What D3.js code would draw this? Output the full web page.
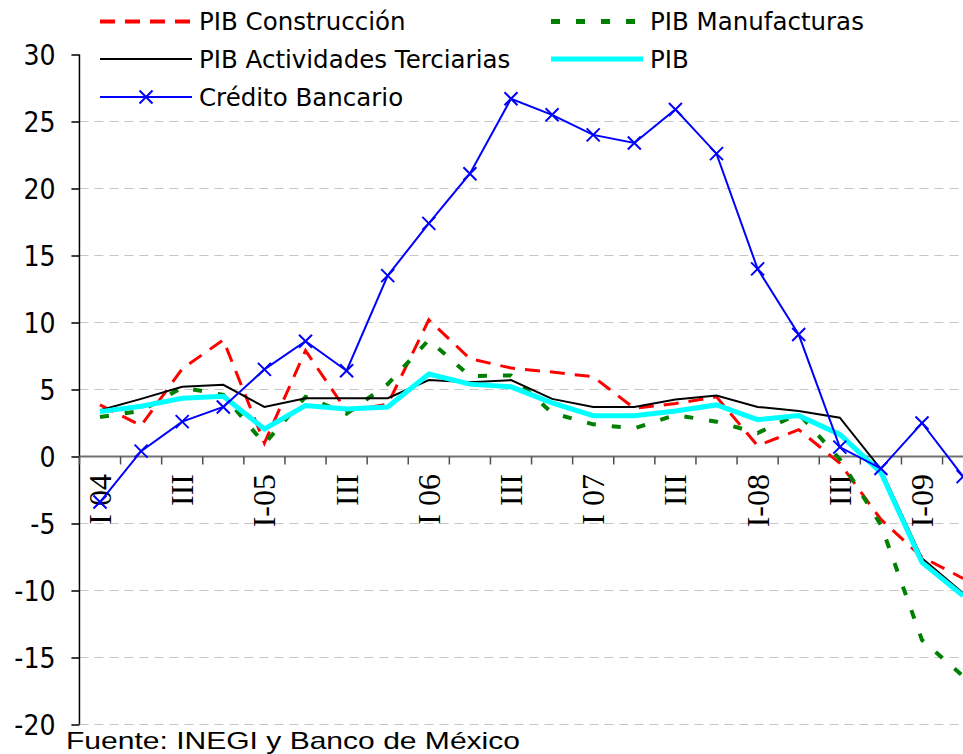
<!DOCTYPE html>
<html>
<head>
<meta charset="utf-8">
<script src="https://cdn.jsdelivr.net/npm/d3@7"></script>
<style>
  html, body { margin: 0; padding: 0; background: #fff; overflow: hidden; }
  svg { display: block; }
</style>
</head>
<body>
<svg id="chart" width="963" height="754"></svg>
<script>
// Quarters 2004Q1 .. 2009Q2
const quarters = ["2004Q1","2004Q2","2004Q3","2004Q4","2005Q1","2005Q2","2005Q3","2005Q4",
  "2006Q1","2006Q2","2006Q3","2006Q4","2007Q1","2007Q2","2007Q3","2007Q4",
  "2008Q1","2008Q2","2008Q3","2008Q4","2009Q1","2009Q2"];
const tickLabels = ["I 04","","III","","I-05","","III","","I 06","","III","",
  "I 07","","III","","I-08","","III","","I-09",""];

const pibConstruccion = [3.85, 2.3, 6.55, 8.7, 1.0, 7.9, 3.4, 3.9, 10.2, 7.3, 6.6, 6.3,
  5.95, 3.6, 3.95, 4.45, 0.8, 2.0, -0.5, -4.7, -7.5, -9.1];
const pibManufacturas = [2.95, 3.4, 5.15, 4.6, 0.95, 4.45, 3.2, 5.4, 8.7, 6.0, 6.05, 3.25,
  2.4, 2.1, 3.1, 2.6, 1.75, 3.2, -0.2, -5.1, -13.7, -16.4];
const pibTerciarias = [3.45, 4.3, 5.2, 5.35, 3.7, 4.35, 4.35, 4.35, 5.7, 5.55, 5.7, 4.3,
  3.7, 3.7, 4.25, 4.55, 3.7, 3.4, 2.9, -0.95, -7.6, -10.2];
const pibTotal = [3.35, 3.75, 4.35, 4.5, 2.05, 3.8, 3.55, 3.7, 6.15, 5.4, 5.2, 4.0,
  3.05, 3.05, 3.4, 3.85, 2.75, 3.05, 1.65, -1.2, -7.9, -10.4];
const creditoBancario = [-3.4, 0.4, 2.6, 3.7, 6.5, 8.6, 6.4, 13.5, 17.4, 21.1, 26.7, 25.5,
  24.0, 23.4, 25.9, 22.6, 14.0, 9.1, 0.7, -0.9, 2.5, -1.5];

const yTicks = [-20, -15, -10, -5, 0, 5, 10, 15, 20, 25, 30];
const gridTicks = [-20, -15, -10, -5, 5, 10, 15, 20, 25];

const seriesNames = ["PIB Construcción", "PIB Manufacturas", "PIB Actividades Terciarias", "PIB", "Crédito Bancario"];
const seriesValues = [pibConstruccion, pibManufacturas, pibTerciarias, pibTotal, creditoBancario];
const seriesColors = ["#ff0000", "#008000", "#000000", "#00ffff", "#0000ff"];
const seriesWidths = [3, 4, 2, 5, 2];
const seriesDash = ["15,10", "9,16", null, null, null];
const legendWidths = [4, 5, 2, 5, 2];

const svg = d3.select("#chart");

const bandW = 41.1;
const x0 = 79.45;
const x = d3.scaleBand().domain(quarters).range([x0, x0 + bandW * quarters.length]).padding(0);
const xc = q => x(q) + x.bandwidth() / 2;
const y = d3.scaleLinear().domain([-20, 30]).range([724.5, 54.5]);

// gridlines
svg.append("g").selectAll("line").data(gridTicks).join("line")
  .attr("x1", x0).attr("x2", 963)
  .attr("y1", d => y(d)).attr("y2", d => y(d))
  .attr("stroke", "#c6c6c6").attr("stroke-width", 1.2)
  .attr("stroke-dasharray", "9,6");

// y axis
const yAxis = svg.append("g").attr("transform", `translate(${x0},0)`)
  .call(d3.axisLeft(y).tickValues(yTicks).tickSize(8).tickPadding(16).tickFormat(d => String(d)));
yAxis.select(".domain").attr("stroke", "#000").attr("stroke-width", 1.5).attr("d", `M0,${y(30)}V${y(-20)}`);
yAxis.selectAll(".tick line").attr("stroke", "#000").attr("stroke-width", 1.5);
yAxis.selectAll(".tick text").attr("font-family", "DejaVu Sans Condensed, DejaVu Sans, sans-serif")
  .attr("font-stretch", "condensed")
  .attr("font-size", 28).attr("fill", "#000").attr("dy", "0.36em");

// x axis line at zero
const xAxisG = svg.append("g");
xAxisG.append("line").attr("x1", x0).attr("x2", x0 + bandW * quarters.length)
  .attr("y1", y(0)).attr("y2", y(0)).attr("stroke", "#707070").attr("stroke-width", 2);
const edges = quarters.map(q => x(q));
xAxisG.selectAll("line.tk").data(edges).join("line").attr("class", "tk")
  .attr("x1", d => d).attr("x2", d => d)
  .attr("y1", y(0)).attr("y2", y(0) + 8)
  .attr("stroke", "#505050").attr("stroke-width", 1.5);
xAxisG.selectAll("text").data(quarters.filter((q, i) => tickLabels[i] !== "")).join("text")
  .attr("transform", q => `translate(${xc(q) + 11},474) rotate(-90)`)
  .attr("text-anchor", "end")
  .attr("font-family", "Liberation Serif, Times New Roman, serif")
  .attr("font-size", 32).attr("fill", "#000")
  .text(q => tickLabels[quarters.indexOf(q)]);

// series lines
const line = d3.line().x((d, i) => xc(quarters[i])).y(d => y(d));
const linesG = svg.append("g");
seriesValues.forEach((vals, k) => {
  linesG.append("path").datum(vals)
    .attr("d", line)
    .attr("fill", "none")
    .attr("stroke", seriesColors[k])
    .attr("stroke-width", seriesWidths[k])
    .attr("stroke-linejoin", "miter")
    .attr("stroke-dasharray", seriesDash[k]);
});

// markers for Crédito Bancario
const xSize = 6.5;
const xMark = `M${-xSize},${-xSize}L${xSize},${xSize}M${-xSize},${xSize}L${xSize},${-xSize}`;
linesG.append("g").selectAll("path").data(creditoBancario).join("path")
  .attr("transform", (d, i) => `translate(${xc(quarters[i])},${y(d)})`)
  .attr("d", xMark).attr("stroke", "#0000ff").attr("stroke-width", 2).attr("fill", "none");

// legend
const legendPos = [
  {lx: 100, ly: 21.5, tb: 30},
  {lx: 551, ly: 21.5, tb: 30},
  {lx: 100, ly: 59, tb: 68},
  {lx: 551, ly: 59, tb: 68},
  {lx: 100, ly: 97, tb: 106}
];
const lg = svg.append("g");
seriesNames.forEach((name, k) => {
  const p = legendPos[k];
  lg.append("line").attr("x1", p.lx).attr("x2", p.lx + 92)
    .attr("y1", p.ly).attr("y2", p.ly)
    .attr("stroke", seriesColors[k]).attr("stroke-width", legendWidths[k])
    .attr("stroke-dasharray", seriesDash[k]);
  if (k === 4) {
    lg.append("path").attr("transform", `translate(${p.lx + 46},${p.ly})`)
      .attr("d", xMark).attr("stroke", "#0000ff").attr("stroke-width", 2);
  }
  lg.append("text").attr("x", p.lx + 99).attr("y", p.tb)
    .attr("font-family", "DejaVu Sans, Verdana, sans-serif").attr("font-size", 24.5)
    .attr("fill", "#000").text(name);
});

// source note
svg.append("text").attr("x", 66).attr("y", 749)
  .attr("font-family", "Liberation Sans, Arial, sans-serif").attr("font-size", 24)
  .attr("textLength", 454).attr("lengthAdjust", "spacingAndGlyphs")
  .attr("fill", "#000").text("Fuente: INEGI y Banco de México");
</script>
</body>
</html>
